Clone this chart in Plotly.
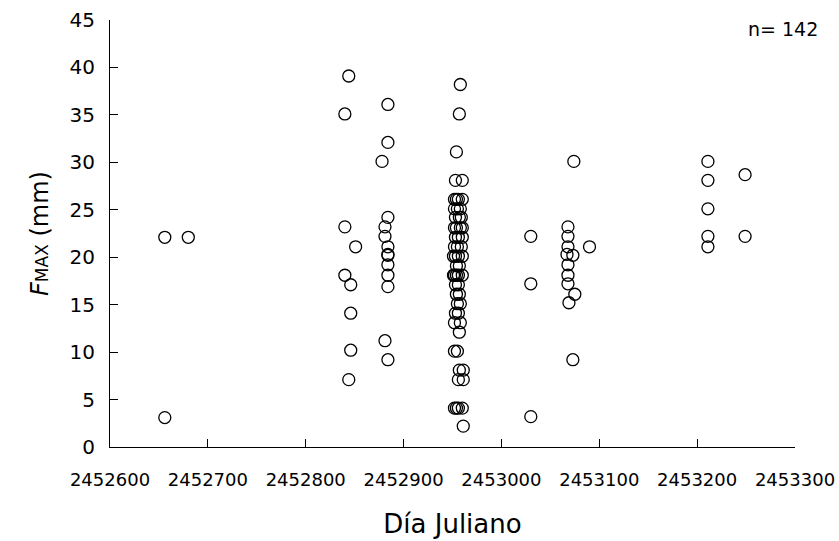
import plotly.graph_objects as go

# Julian day (x) and F_MAX in mm (y)
grp1_x = [2452656, 2452656, 2452680]
grp1_y = [22.1, 3.1, 22.1]

grp2_x = [2452844, 2452840, 2452840, 2452851, 2452840, 2452846, 2452846, 2452846, 2452844]
grp2_y = [39.1, 35.1, 23.2, 21.1, 18.1, 17.1, 14.1, 10.2, 7.1]

grp3_x = [2452884, 2452884, 2452878, 2452884, 2452881, 2452881, 2452884, 2452884, 2452884,
          2452884, 2452884, 2452884, 2452881, 2452884]
grp3_y = [36.1, 32.1, 30.1, 24.2, 23.2, 22.2, 21.1, 20.2, 19.2, 18.1, 16.9, 20.3, 11.2, 9.2]

dense_x = [2452958, 2452957, 2452954, 2452953, 2452960,
           2452952, 2452954, 2452956, 2452960,
           2452952, 2452955, 2452958,
           2452953, 2452957, 2452959,
           2452952, 2452954, 2452958, 2452960,
           2452953, 2452956, 2452960,
           2452952, 2452955, 2452959,
           2452951, 2452953, 2452956, 2452960,
           2452954, 2452957,
           2452951, 2452952, 2452954, 2452956, 2452960,
           2452953, 2452956,
           2452954, 2452957,
           2452955, 2452958,
           2452953, 2452956,
           2452952, 2452958,
           2452957,
           2452952, 2452955,
           2452957, 2452961,
           2452956, 2452961,
           2452952, 2452954, 2452956, 2452960,
           2452961]
dense_y = [38.2, 35.1, 31.1, 28.1, 28.1,
           26.1, 26.1, 26.1, 26.1,
           25.1, 25.1, 25.1,
           24.2, 24.2, 24.2,
           23.1, 23.1, 23.1, 23.1,
           22.1, 22.1, 22.1,
           21.1, 21.1, 21.1,
           20.1, 20.1, 20.1, 20.1,
           19.1, 19.1,
           18.1, 18.1, 18.1, 18.1, 18.1,
           17.1, 17.1,
           16.1, 16.1,
           15.1, 15.1,
           14.1, 14.1,
           13.1, 13.1,
           12.1,
           10.1, 10.1,
           8.1, 8.1,
           7.1, 7.1,
           4.1, 4.1, 4.1, 4.1,
           2.2]

grp5_x = [2453030, 2453030, 2453030]
grp5_y = [22.2, 17.2, 3.2]

grp6_x = [2453074, 2453068, 2453068, 2453068, 2453067, 2453073, 2453068, 2453068, 2453068,
          2453075, 2453069, 2453073, 2453090]
grp6_y = [30.1, 23.2, 22.2, 21.1, 20.3, 20.2, 19.2, 18.1, 17.2, 16.1, 15.2, 9.2, 21.1]

grp7_x = [2453211, 2453211, 2453211, 2453211, 2453211, 2453249, 2453249]
grp7_y = [30.1, 28.1, 25.1, 22.2, 21.1, 28.7, 22.2]

x_vals = grp1_x + grp2_x + grp3_x + dense_x + grp5_x + grp6_x + grp7_x
y_vals = grp1_y + grp2_y + grp3_y + dense_y + grp5_y + grp6_y + grp7_y

x_ticks = [2452600, 2452700, 2452800, 2452900, 2453000, 2453100, 2453200, 2453300]
y_ticks = [0, 5, 10, 15, 20, 25, 30, 35, 40, 45]

font = "DejaVu Sans, Arial, sans-serif"

fig = go.Figure(go.Scatter(
    x=x_vals, y=y_vals, mode="markers",
    marker=dict(symbol="circle-open", size=12, color="black", line=dict(width=1.3)),
    showlegend=False, cliponaxis=False,
))

fig.update_layout(
    width=839, height=541,
    margin=dict(l=110, r=44, t=20, b=94),
    paper_bgcolor="white", plot_bgcolor="white",
    font=dict(family=font, color="black", size=19),
    xaxis=dict(
        range=[2452600, 2453300], tickvals=x_ticks, ticktext=[str(v) for v in x_ticks],
        showgrid=False, zeroline=False, showline=True, linecolor="black", linewidth=1,
        ticks="inside", ticklen=8, tickcolor="black", tickfont=dict(size=18),
        ticklabelstandoff=16, automargin=False,
        title=dict(text="Día Juliano", font=dict(size=26), standoff=26),
    ),
    yaxis=dict(
        range=[0, 45], tickvals=y_ticks,
        showgrid=False, zeroline=False, showline=True, linecolor="black", linewidth=1,
        ticks="inside", ticklen=8, tickcolor="black", tickfont=dict(size=20),
        ticklabelstandoff=10, automargin=False,
        title=dict(text="<i>F</i><span style='font-size:17px'>MAX</span> (mm)",
                   font=dict(size=24), standoff=14),
    ),
    annotations=[dict(text="n= 142", xref="paper", yref="paper", x=1.036, y=1.01,
                      xanchor="right", yanchor="top", showarrow=False, font=dict(size=19))],
)

# remove the default page margin so the 839x541 figure fills the window exactly
fig.write_html("out.html",
               config={"displayModeBar": False},
               post_script="document.body.style.margin='0';document.body.style.overflow='hidden';")
